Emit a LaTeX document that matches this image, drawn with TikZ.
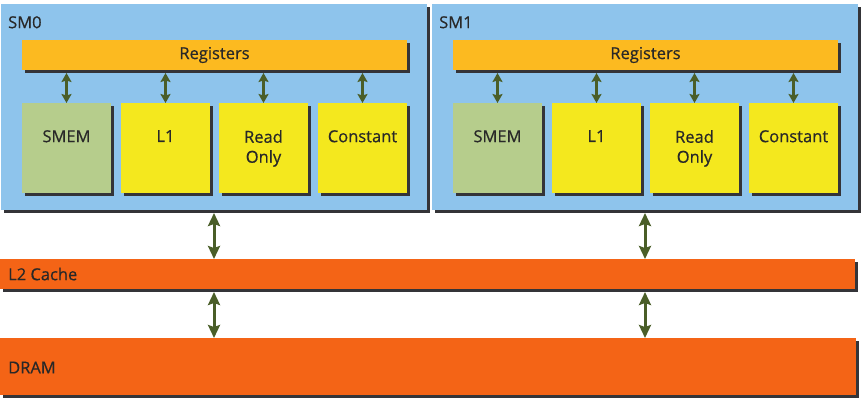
\documentclass[tikz,border=0pt]{standalone}
\usepackage{fontspec}
\setmainfont{Open Sans}[FakeBold=0.6]
\usepackage{tikz}
\usetikzlibrary{arrows.meta,positioning,shadows}
\definecolor{smblue}{RGB}{142,196,236}
\definecolor{regorange}{RGB}{252,186,32}
\definecolor{smemgreen}{RGB}{182,205,140}
\definecolor{cacheyellow}{RGB}{244,232,30}
\definecolor{busorange}{RGB}{244,100,22}
\definecolor{arrowgreen}{RGB}{74,94,40}
\definecolor{shadowgray}{RGB}{52,52,56}
\definecolor{textdark}{RGB}{40,40,40}

\begin{document}
\begin{tikzpicture}[x=1pt, y=-1pt,
  every node/.style={font=\fontsize{16.5}{20}\selectfont, text=textdark},
  panel/.style={fill=#1, anchor=north west, inner sep=0pt, outer sep=0pt,
    drop shadow={shadow xshift=3pt, shadow yshift=-3pt, opacity=1, fill=shadowgray}},
  link/.style={{Stealth[length=9pt,width=10pt,inset=1.5pt]}-{Stealth[length=9pt,width=10pt,inset=1.5pt]},
    line width=2.4pt, arrowgreen},
  buslink/.style={{Stealth[length=13pt,width=12pt,inset=2pt]}-{Stealth[length=13pt,width=12pt,inset=2pt]},
    line width=3pt, arrowgreen}]

  \useasboundingbox (0,0) rectangle (864,405);

  % Streaming multiprocessors
  \foreach \s/\dx in {0/0, 1/431} {
    \node[panel=smblue, minimum width=426pt, minimum height=206pt,
      label={[anchor=north west, inner sep=0pt, xshift=7pt, yshift=-12pt]north west:SM\s}]
      (sm\s) at (\dx+1,4) {};

    % Register file
    \node[panel=regorange, minimum width=385pt, minimum height=30pt]
      (reg\s) at (\dx+22,40) {Registers};

    % On-chip memories
    \foreach \b/\bx/\col/\txt in {smem/22/smemgreen/SMEM, l1/121/cacheyellow/L1,
        ro/219/cacheyellow/Read\\Only, const/318/cacheyellow/Constant} {
      \node[panel=\col, minimum width=89pt, minimum height=90pt,
        label={[anchor=north, inner sep=0pt, yshift=-27pt, align=center]north:\txt}]
        (sm\s-\b) at (\dx+\bx,103) {};
      \draw[link, shorten >=3pt] (sm\s-\b.north) -- (sm\s-\b.north |- reg\s.south);
    }
  }

  % L2 cache and DRAM
  \node[panel=busorange, minimum width=855pt, minimum height=30pt,
    label={[anchor=west, inner sep=0pt, xshift=8pt]west:L2 Cache}]
    (l2) at (0,259) {};
  \node[panel=busorange, minimum width=856pt, minimum height=57pt,
    label={[anchor=west, inner sep=0pt, xshift=8pt, yshift=-1pt]west:DRAM}]
    (dram) at (0,338) {};

  % Bus links
  \foreach \s in {0,1} {
    \draw[buslink, shorten <=3pt] (sm\s.south) -- (sm\s.south |- l2.north);
    \draw[buslink, shorten <=3pt] (sm\s.south |- l2.south) -- (sm\s.south |- dram.north);
  }
\end{tikzpicture}
\end{document}
